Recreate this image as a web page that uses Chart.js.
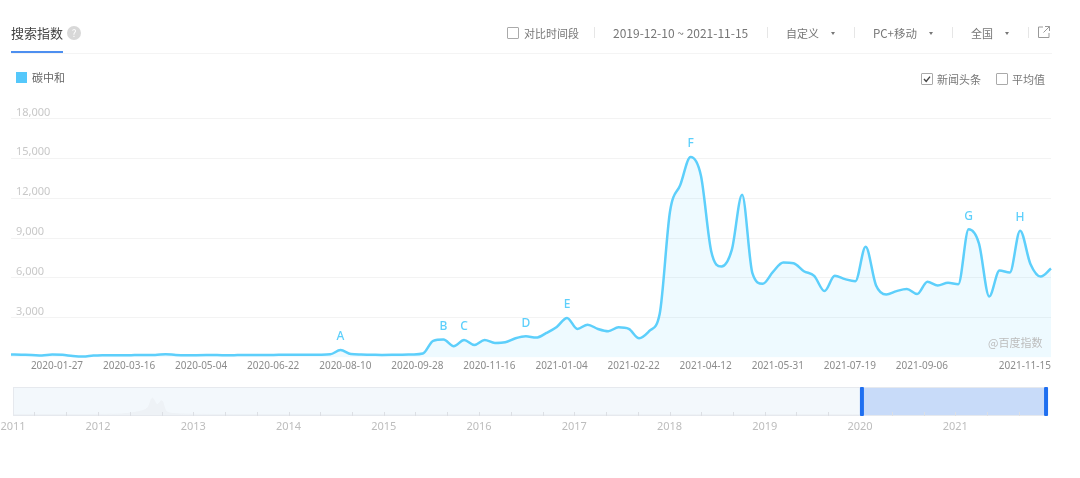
<!DOCTYPE html>
<html lang="zh">
<head>
<meta charset="utf-8">
<title>搜索指数</title>
<script src="https://cdn.jsdelivr.net/npm/chart.js@4/dist/chart.umd.min.js"></script>
<style>
  html, body { margin: 0; padding: 0; background: #fff; overflow: hidden; }
  body { width: 1080px; height: 478px; position: relative; font-family: "Noto Sans CJK SC", "Noto Sans", sans-serif; color: #777; font-size: 11px; }
  canvas { position: absolute; left: 0; display: block; }
  .t { position: absolute; line-height: 14px; white-space: nowrap; }
  .box { position: absolute; width: 10px; height: 10px; border: 1px solid #aaa; border-radius: 1px; background: #fff; }
  .sep { position: absolute; top: 27px; width: 1px; height: 11px; background: #e6e6e6; }
  .tri { position: absolute; top: 32px; width: 0; height: 0; border-left: 2px solid transparent; border-right: 2px solid transparent; border-top: 3px solid #777; }
  .rule { position: absolute; left: 11px; height: 1px; background: #f4f4f4; }
</style>
</head>
<body>
  <canvas id="trend" width="1080" height="380" style="top:0"></canvas>
  <canvas id="navigator" width="1080" height="60" style="top:380px"></canvas>

  <div class="t" style="left:11px;top:25px;font-size:13px;line-height:16px;color:#444">搜索指数</div>
  <div style="position:absolute;left:67px;top:26px;width:14px;height:14px;border-radius:50%;background:#d8d8d8;color:#fff;font-size:10px;line-height:14px;text-align:center">?</div>
  <div class="rule" style="top:53px;width:1041px"></div>
  <div style="position:absolute;left:11px;top:51px;width:52px;height:2px;background:#4d8ff0"></div>

  <div class="box" style="left:507px;top:27px"></div>
  <div class="t" style="left:524px;top:26px">对比时间段</div>
  <div class="sep" style="left:594px"></div>
  <div class="t" style="left:613px;top:26px;font-size:12px">2019-12-10 ~ 2021-11-15</div>
  <div class="sep" style="left:767px"></div>
  <div class="t" style="left:786px;top:26px">自定义</div>
  <div class="tri" style="left:831px"></div>
  <div class="sep" style="left:854px"></div>
  <div class="t" style="left:873px;top:26px;font-size:11.5px">PC+移动</div>
  <div class="tri" style="left:929px"></div>
  <div class="sep" style="left:952px"></div>
  <div class="t" style="left:971px;top:26px">全国</div>
  <div class="tri" style="left:1005px"></div>
  <div class="sep" style="left:1028px"></div>
  <svg style="position:absolute;left:1037px;top:25px" width="14" height="14" viewBox="0 0 14 14" fill="none" stroke="#999" stroke-width="1">
    <path d="M6 2H1.5V12.5H12V8M8 1.5H12.5V6M12.5 1.5L6.5 7.5"/>
  </svg>

  <div style="position:absolute;left:16px;top:72px;width:11px;height:11px;background:#55c8fb"></div>
  <div class="t" style="left:32px;top:70px;color:#666">碳中和</div>

  <div class="box" style="left:921px;top:73px"></div>
  <svg style="position:absolute;left:922px;top:74px" width="10" height="10" viewBox="0 0 10 10" fill="none" stroke="#444" stroke-width="1.4">
    <path d="M2 5L4.2 7.4L8 2.6"/>
  </svg>
  <div class="t" style="left:937px;top:72px">新闻头条</div>
  <div class="box" style="left:996px;top:73px"></div>
  <div class="t" style="left:1012px;top:72px">平均值</div>

  <div class="t" style="left:988px;top:335px;color:#bdbdbd">@百度指数</div>

<script>
// Weekly search index for the term, Monday of each week
const weeks = [
  '2019-12-09','2019-12-16','2019-12-23','2019-12-30',
  '2020-01-06','2020-01-13','2020-01-20','2020-01-27','2020-02-03','2020-02-10','2020-02-17','2020-02-24',
  '2020-03-02','2020-03-09','2020-03-16','2020-03-23','2020-03-30','2020-04-06','2020-04-13','2020-04-20','2020-04-27',
  '2020-05-04','2020-05-11','2020-05-18','2020-05-25','2020-06-01','2020-06-08','2020-06-15','2020-06-22','2020-06-29',
  '2020-07-06','2020-07-13','2020-07-20','2020-07-27','2020-08-03','2020-08-10','2020-08-17','2020-08-24','2020-08-31',
  '2020-09-07','2020-09-14','2020-09-21','2020-09-28','2020-10-05','2020-10-12','2020-10-19','2020-10-26',
  '2020-11-02','2020-11-09','2020-11-16','2020-11-23','2020-11-30','2020-12-07','2020-12-14','2020-12-21','2020-12-28',
  '2021-01-04','2021-01-11','2021-01-18','2021-01-25','2021-02-01','2021-02-08','2021-02-15','2021-02-22',
  '2021-03-01','2021-03-08','2021-03-15','2021-03-22','2021-03-29','2021-04-05','2021-04-12','2021-04-19','2021-04-26',
  '2021-05-03','2021-05-10','2021-05-17','2021-05-24','2021-05-31','2021-06-07','2021-06-14','2021-06-21','2021-06-28',
  '2021-07-05','2021-07-12','2021-07-19','2021-07-26','2021-08-02','2021-08-09','2021-08-16','2021-08-23','2021-08-30',
  '2021-09-06','2021-09-13','2021-09-20','2021-09-27','2021-10-04','2021-10-11','2021-10-18','2021-10-25',
  '2021-11-01','2021-11-08','2021-11-15'
];
const searchIndex = [
  225,205,190,150,220,200,110,70,145,170,
  175,170,180,190,185,250,190,170,175,180,
  185,170,180,190,195,195,200,200,205,205,
  215,240,560,260,220,210,195,200,210,230,
  300,1250,1350,850,1320,950,1325,1100,1150,1450,
  1600,1500,1850,2300,2980,2150,2475,2150,1975,2275,
  2150,1450,2000,3300,11000,13000,15100,13700,8000,6850,
  8100,12250,6350,5550,6450,7150,7100,6500,6150,5000,
  6150,5900,5750,8350,5450,4750,5000,5150,4775,5700,
  5425,5625,5525,9650,8600,4600,6550,6400,9550,7050,
  6100,6700
];
const dateTicks = [
  '2020-01-27','2020-03-16','2020-05-04','2020-06-22','2020-08-10','2020-09-28','2020-11-16',
  '2021-01-04','2021-02-22','2021-04-12','2021-05-31','2021-07-19','2021-09-06','2021-11-15'
];
const valueTicks = [3000, 6000, 9000, 12000, 15000, 18000];
// News headline markers: letter and the week it sits on
const markerLetters = ['A','B','C','D','E','F','G','H'];
const markerWeeks = ['2020-07-20','2020-09-28','2020-10-12','2020-11-23','2020-12-21','2021-03-15','2021-09-20','2021-10-25'];

// Full-history strip under the chart
const navYears = [2011.11,2012.2,2012.4,2012.52,2012.57,2012.62,2012.67,2012.72,2012.85,2013.5,2021.96];
const navValues = [2,3,10,25,62,38,52,12,4,2,2];
const navTicks = [
  2011.1076,2011.333,2011.667,2012,2012.333,2012.667,2013,2013.333,2013.667,2014,2014.333,2014.667,
  2015,2015.333,2015.667,2016,2016.333,2016.667,2017,2017.333,2017.667,2018,2018.333,2018.667,
  2019,2019.333,2019.667,2020,2020.333,2020.667,2021,2021.333,2021.667
];
const navWindow = [2020.02, 2021.953];

const lineColor = '#5dcffb';

const markerPlugin = {
  id: 'headlineMarkers',
  afterDatasetsDraw(chart) {
    const { ctx, scales } = chart;
    ctx.save();
    ctx.font = '500 12px "Noto Sans", sans-serif';
    ctx.fillStyle = lineColor;
    ctx.textAlign = 'center';
    ctx.textBaseline = 'middle';
    markerWeeks.forEach((week, i) => {
      const idx = weeks.indexOf(week);
      ctx.fillText(markerLetters[i], scales.x.getPixelForValue(idx), scales.y.getPixelForValue(searchIndex[idx]) - 13);
    });
    ctx.restore();
  }
};

new Chart(document.getElementById('trend'), {
  type: 'line',
  data: {
    labels: weeks,
    datasets: [{
      data: searchIndex,
      borderColor: lineColor,
      borderWidth: 2.5,
      backgroundColor: 'rgba(93,207,251,0.1)',
      fill: 'origin',
      pointRadius: 0,
      cubicInterpolationMode: 'monotone',
      clip: false
    }]
  },
  options: {
    responsive: false,
    animation: false,
    events: [],
    layout: { padding: { left: 11, right: 29, top: 118.5, bottom: 0 } },
    plugins: { legend: { display: false }, tooltip: { enabled: false } },
    scales: {
      x: {
        offset: false,
        grid: { display: false, drawTicks: false },
        border: { display: false },
        afterFit(s) { s.height = 22.5; },
        ticks: {
          autoSkip: false,
          maxRotation: 0,
          minRotation: 0,
          align: 'end',
          padding: 3,
          color: '#8c8c8c',
          font: { family: '"Noto Sans", sans-serif', size: 10 },
          callback(v) { const d = this.getLabelForValue(v); return dateTicks.includes(d) ? d : ''; }
        }
      },
      y: {
        min: 0,
        max: 18000,
        afterBuildTicks(s) { s.ticks = valueTicks.map(value => ({ value })); },
        afterFit(s) { s.width = 0; },
        grid: { color: '#f3f3f3', lineWidth: 1, drawTicks: false },
        border: { display: false },
        ticks: {
          mirror: true,
          padding: 5,
          labelOffset: -6,
          color: '#c8c8c8',
          font: { family: '"Noto Sans", sans-serif', size: 11 },
          callback(v) { return v.toLocaleString('en-US'); }
        }
      }
    }
  },
  plugins: [markerPlugin]
});

const navFrame = {
  id: 'navFrame',
  beforeDatasetsDraw(chart) {
    const { ctx, chartArea: a } = chart;
    ctx.save();
    ctx.fillStyle = '#f3f8fc';
    ctx.fillRect(a.left, a.top, a.right - a.left, a.bottom - a.top);
    ctx.restore();
  },
  afterDatasetsDraw(chart) {
    const { ctx, chartArea: a, scales } = chart;
    const x0 = scales.x.getPixelForValue(navWindow[0]);
    const x1 = scales.x.getPixelForValue(navWindow[1]);
    ctx.save();
    ctx.fillStyle = '#c8dbf9';
    ctx.fillRect(x0, a.top, x1 - x0, a.bottom - a.top);
    ctx.strokeStyle = '#e6e9ee';
    ctx.lineWidth = 1;
    ctx.strokeRect(a.left + 0.5, a.top - 0.5, a.right - a.left - 1, a.bottom - a.top + 1);
    // minor ticks along the lower edge of the strip
    ctx.strokeStyle = '#dcdfe4';
    scales.x.ticks.slice(1).forEach(t => {
      const x = Math.round(scales.x.getPixelForValue(t.value)) + 0.5;
      ctx.beginPath();
      ctx.moveTo(x, a.bottom - 3);
      ctx.lineTo(x, a.bottom + 1);
      ctx.stroke();
    });
    // range handles
    ctx.fillStyle = '#1f6ff0';
    [x0, x1].forEach(x => {
      ctx.beginPath();
      ctx.roundRect(x - 2, a.top - 1, 4, a.bottom - a.top + 2, 1);
      ctx.fill();
    });
    ctx.restore();
  }
};

new Chart(document.getElementById('navigator'), {
  type: 'line',
  data: {
    datasets: [{
      data: navYears.map((x, i) => ({ x, y: navValues[i] })),
      borderColor: '#eef2f6',
      borderWidth: 1,
      backgroundColor: '#eef2f6',
      fill: 'origin',
      pointRadius: 0,
      tension: 0.3
    }]
  },
  options: {
    responsive: false,
    animation: false,
    events: [],
    layout: { padding: { left: 13, right: 33, top: 8, bottom: 0 } },
    plugins: { legend: { display: false }, tooltip: { enabled: false } },
    scales: {
      x: {
        type: 'linear',
        min: navTicks[0],
        max: 2021.963,
        afterBuildTicks(s) { s.ticks = navTicks.map(value => ({ value })); },
        afterFit(s) { s.height = 25; s.paddingLeft = 0; s.paddingRight = 0; },
        grid: { display: false, drawTicks: false },
        border: { display: false },
        ticks: {
          autoSkip: false,
          maxRotation: 0,
          minRotation: 0,
          padding: 5,
          color: '#bdbdbd',
          font: { family: '"Noto Sans", sans-serif', size: 11 },
          callback(v) {
            if (v === navTicks[0]) return '2011';
            return Number.isInteger(v) ? String(v) : '';
          }
        }
      },
      y: {
        display: false,
        min: 0,
        max: 100,
        afterFit(s) { s.width = 0; }
      }
    }
  },
  plugins: [navFrame]
});
</script>
</body>
</html>
